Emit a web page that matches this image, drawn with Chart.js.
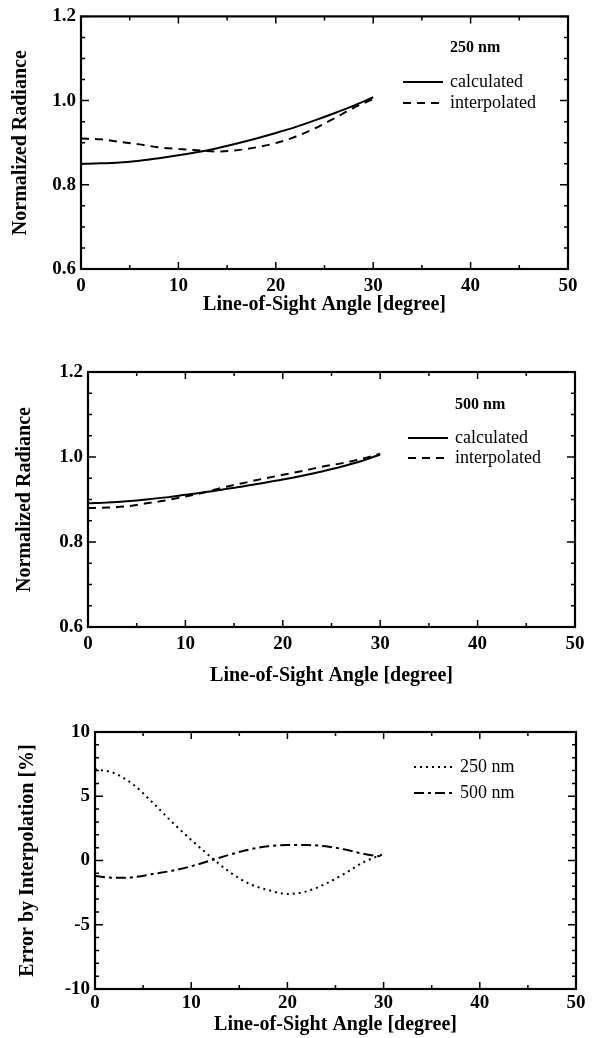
<!DOCTYPE html>
<html>
<head>
<meta charset="UTF-8" />
<script src="https://cdn.jsdelivr.net/npm/chart.js@4.4.1/dist/chart.umd.min.js"></script>
<style>
  body { margin: 0; background: #fff; width: 595px; height: 1038px; position: relative; overflow: hidden; }
  .box { position: absolute; left: 0; width: 595px; }
</style>
</head>
<body>
<div class="box" style="top:0;height:320px"><canvas id="c1"></canvas></div>
<div class="box" style="top:340px;height:350px"><canvas id="c2"></canvas></div>
<div class="box" style="top:700px;height:338px"><canvas id="c3"></canvas></div>
<script>
// line-of-sight angle [degree]
const angles = [0, 2, 4, 6, 8, 10, 12, 14, 16, 18, 20, 22, 24, 26, 28, 30];

// 250 nm normalized radiance
const calc250 = [0.850, 0.851, 0.853, 0.857, 0.863, 0.870, 0.878, 0.887, 0.898, 0.910, 0.923, 0.937, 0.953, 0.970, 0.988, 1.008];
const interp250 = [0.910, 0.908, 0.902, 0.896, 0.889, 0.885, 0.882, 0.879, 0.882, 0.889, 0.899, 0.914, 0.934, 0.958, 0.983, 1.004];

// 500 nm normalized radiance
const calc500 = [0.891, 0.893, 0.896, 0.900, 0.905, 0.911, 0.917, 0.924, 0.931, 0.939, 0.947, 0.956, 0.966, 0.977, 0.990, 1.006];
const interp500 = [0.880, 0.881, 0.884, 0.891, 0.898, 0.907, 0.917, 0.929, 0.939, 0.949, 0.958, 0.967, 0.977, 0.985, 0.995, 1.008];

// error by interpolation [%]
const err250 = [7.1, 6.8, 5.9, 4.5, 3.0, 1.6, 0.3, -0.9, -1.8, -2.3, -2.6, -2.4, -1.8, -1.0, -0.1, 0.5];
const err500 = [-1.2, -1.35, -1.3, -1.05, -0.8, -0.45, 0, 0.45, 0.85, 1.1, 1.2, 1.2, 1.1, 0.85, 0.5, 0.3];

const xTicks = [0, 10, 20, 30, 40, 50];
const xTitle = "Line-of-Sight Angle [degree]";
const serif = "'Liberation Serif', 'Times New Roman', serif";

function pts(ys) {
  return angles.map(function (a, i) { return { x: a, y: ys[i] }; });
}

// box, inward tick marks and the in-plot legend
const frame = {
  id: "frame",
  afterDraw(chart, args, o) {
    const ctx = chart.ctx, a = chart.chartArea;
    const xs = chart.scales.x, ys = chart.scales.y;
    ctx.save();
    ctx.strokeStyle = "#000";
    ctx.lineWidth = 1.5;
    ctx.beginPath();
    // y ticks left and right
    for (let v = ys.min; v <= ys.max + 1e-9; v += o.yMinor) {
      const p = ys.getPixelForValue(v);
      const major = Math.abs(Math.round(v / o.yMajor) * o.yMajor - v) < 1e-6;
      const len = major ? 8 : 4;
      ctx.moveTo(a.left, p); ctx.lineTo(a.left + len, p);
      ctx.moveTo(a.right, p); ctx.lineTo(a.right - len, p);
    }
    // x ticks bottom and top
    for (let v = xs.min; v <= xs.max + 1e-9; v += 5) {
      const p = xs.getPixelForValue(v);
      const len = v % 10 === 0 ? 7 : 4;
      ctx.moveTo(p, a.bottom); ctx.lineTo(p, a.bottom - len);
      ctx.moveTo(p, a.top); ctx.lineTo(p, a.top + len);
    }
    ctx.stroke();
    ctx.lineWidth = 2.2;
    ctx.strokeRect(a.left, a.top, a.right - a.left, a.bottom - a.top);

    // legend
    const L = o.legend;
    ctx.fillStyle = "#000";
    ctx.textBaseline = "middle";
    if (L.header) {
      ctx.font = "bold 16px " + serif;
      ctx.fillText(L.header, L.text, L.headerY);
    }
    ctx.font = L.size + "px " + serif;
    chart.data.datasets.forEach(function (ds, i) {
      const y = L.rows[i];
      ctx.beginPath();
      ctx.setLineDash(ds.borderDash || []);
      ctx.lineWidth = ds.borderWidth;
      ctx.moveTo(L.x0, y); ctx.lineTo(L.x1, y);
      ctx.stroke();
      ctx.setLineDash([]);
      ctx.fillText(ds.label, L.text, y);
    });
    ctx.restore();
  }
};

function panel(id, cfg) {
  return new Chart(document.getElementById(id), {
    type: "line",
    data: { datasets: cfg.datasets },
    options: {
      responsive: true,
      maintainAspectRatio: false,
      animation: false,
      events: [],
      layout: { padding: { top: cfg.padTop, right: cfg.padRight, left: 0, bottom: 0 } },
      elements: { point: { radius: 0 }, line: { tension: 0.4, cubicInterpolationMode: "monotone" } },
      plugins: {
        legend: { display: false },
        tooltip: { enabled: false },
        frame: { yMajor: cfg.yStep, yMinor: cfg.yMinor, legend: cfg.legend }
      },
      scales: {
        x: {
          type: "linear", min: 0, max: 50,
          afterBuildTicks: function (s) { s.ticks = xTicks.map(function (v) { return { value: v }; }); },
          afterFit: function (s) { s.height = cfg.xHeight; },
          grid: { display: false, drawTicks: false },
          border: { display: false },
          ticks: { color: "#000", padding: cfg.xTickPad, maxRotation: 0, font: { family: serif, size: 19, weight: "bold" } },
          title: { display: true, text: xTitle, color: "#000", padding: { top: 0, bottom: cfg.xTitlePad }, font: { family: serif, size: 20, weight: "bold" } }
        },
        y: {
          min: cfg.yMin, max: cfg.yMax,
          afterFit: function (s) { s.width = cfg.yWidth; },
          grid: { display: false, drawTicks: false },
          border: { display: false },
          ticks: { stepSize: cfg.yStep, color: "#000", padding: 5, font: { family: serif, size: 19, weight: "bold" },
            callback: cfg.fmt },
          title: { display: true, text: cfg.yTitle, color: "#000", padding: { top: cfg.yTitlePad, bottom: 0 }, font: { family: serif, size: 20, weight: "bold" } }
        }
      }
    },
    plugins: [frame]
  });
}

function fmt1(v) { return v.toFixed(1); }
function fmt0(v) { return String(Math.round(v)); }

panel("c1", {
  padTop: 13, padRight: 27, yWidth: 81, xHeight: 51, xTickPad: 6, xTitlePad: 3, yTitlePad: 9,
  yMin: 0.6, yMax: 1.2, yStep: 0.2, yMinor: 0.05, fmt: fmt1, yTitle: "Normalized Radiance",
  legend: { header: "250 nm", headerY: 48, rows: [82, 103], x0: 403, x1: 443, text: 450, size: 18 },
  datasets: [
    { label: "calculated", data: pts(calc250), borderColor: "#000", borderWidth: 2 },
    { label: "interpolated", data: pts(interp250), borderColor: "#000", borderWidth: 2, borderDash: [8, 6] }
  ]
});

panel("c2", {
  padTop: 32, padRight: 20, yWidth: 88, xHeight: 63, xTickPad: 6, xTitlePad: 2, yTitlePad: 13,
  yMin: 0.6, yMax: 1.2, yStep: 0.2, yMinor: 0.05, fmt: fmt1, yTitle: "Normalized Radiance",
  legend: { header: "500 nm", headerY: 65, rows: [98, 118], x0: 408, x1: 448, text: 455, size: 18 },
  datasets: [
    { label: "calculated", data: pts(calc500), borderColor: "#000", borderWidth: 2 },
    { label: "interpolated", data: pts(interp500), borderColor: "#000", borderWidth: 2, borderDash: [8, 6] }
  ]
});

panel("c3", {
  padTop: 32, padRight: 19, yWidth: 95, xHeight: 49, xTickPad: 3, xTitlePad: 1, yTitlePad: 16,
  yMin: -10, yMax: 10, yStep: 5, yMinor: 1, fmt: fmt0, yTitle: "Error by Interpolation [%]",
  legend: { header: null, rows: [67, 93], x0: 414, x1: 452, text: 460, size: 18 },
  datasets: [
    { label: "250 nm", data: pts(err250), borderColor: "#000", borderWidth: 2, borderDash: [2, 4] },
    { label: "500 nm", data: pts(err500), borderColor: "#000", borderWidth: 2, borderDash: [10, 4, 3, 4] }
  ]
});
</script>
</body>
</html>
